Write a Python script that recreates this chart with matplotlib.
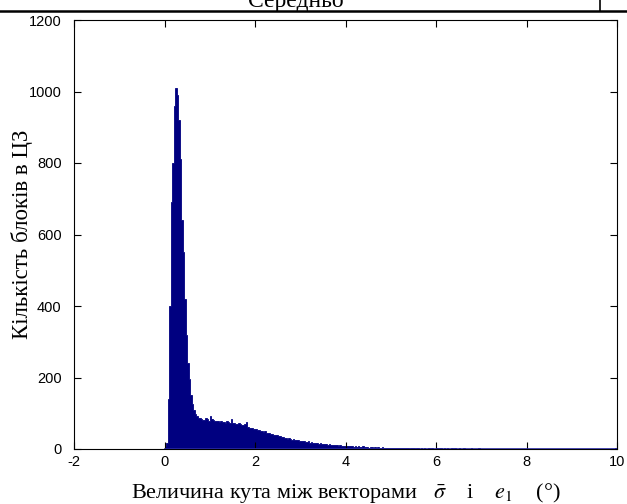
import numpy as np
import matplotlib
matplotlib.use("Agg")
import matplotlib.pyplot as plt
from matplotlib import font_manager

# ---------------- data ----------------
bin_start = 0.0
bin_stop = 10.0
n_bins = 300
counts = [
    # 0.0 - 1.0
    8, 17, 140, 400, 690, 800, 960, 1010, 990, 920,
    810, 640, 550, 420, 320, 240, 195, 150, 125, 108,
    98, 92, 88, 86, 84, 82, 80, 86, 84, 78,
    # 1.0 - 2.0
    92, 84, 80, 78, 79, 77, 76, 78, 75, 76,
    74, 77, 75, 73, 83, 72, 74, 71, 70, 72,
    69, 68, 67, 70, 75, 62, 60, 58, 59, 56,
    # 2.0 - 3.0
    55, 53, 54, 50, 51, 48, 49, 46, 45, 44,
    42, 43, 40, 38, 39, 36, 35, 33, 34, 31,
    30, 29, 30, 27, 26, 27, 25, 24, 25, 23,
    # 3.0 - 4.0
    22, 21, 23, 20, 19, 21, 18, 19, 17, 18,
    16, 17, 15, 16, 14, 15, 13, 14, 12, 13,
    12, 11, 12, 10, 11, 9, 10, 9, 8, 9,
    # 4.0 - 5.0
    8, 9, 7, 8, 7, 6, 8, 6, 7, 5,
    6, 7, 5, 6, 5, 4, 6, 5, 4, 5,
    4, 5, 3, 4, 5, 3, 4, 3, 4, 3,
    # 5.0 - 6.0
    3, 2, 4, 3, 2, 3, 2, 3, 2, 2,
    3, 2, 1, 2, 3, 2, 1, 2, 2, 1,
    2, 1, 2, 1, 1, 2, 1, 2, 1, 1,
    # 6.0 - 7.0
    2, 1, 2, 2, 1, 2, 1, 2, 1, 1,
    2, 1, 2, 1, 1, 2, 1, 1, 2, 1,
    1, 0, 1, 2, 1, 0, 1, 1, 2, 1,
    # 7.0 - 8.0
    1, 1, 0, 1, 0, 1, 1, 0, 0, 1,
    0, 0, 1, 0, 0, 1, 1, 0, 1, 0,
    0, 1, 0, 0, 0, 1, 0, 0, 0, 0,
    # 8.0 - 9.0
    0, 1, 0, 0, 0, 0, 0, 0, 0, 0,
    0, 1, 0, 0, 0, 0, 0, 0, 0, 0,
    0, 0, 0, 0, 0, 0, 0, 0, 0, 0,
    # 9.0 - 10.0
    0, 0, 0, 0, 0, 0, 0, 0, 0, 0,
    0, 0, 0, 0, 0, 0, 0, 0, 0, 0,
    0, 0, 0, 0, 0, 0, 0, 0, 0, 4,
]
x_ticks = [-2, 0, 2, 4, 6, 8, 10]
y_ticks = [0, 200, 400, 600, 800, 1000, 1200]
x_label = r"Величина кута між векторами   $\bar{\sigma}$    і    $e_1$    (°)"
y_label = "Кількість блоків в ЦЗ"
header_text = "Середньо"

# ---------------- style ----------------
plt.rcParams["mathtext.fontset"] = "stix"
names = {f.name for f in font_manager.fontManager.ttflist}
tick_family = ["Liberation Sans Narrow"] if "Liberation Sans Narrow" in names else ["Liberation Sans"]
serif = ["Liberation Serif", "DejaVu Serif"]
navy = "#000080"

fig = plt.figure(figsize=(6.27, 5.04), dpi=100)
ax = fig.add_axes([74 / 627, 55 / 504, 543 / 627, 429 / 504])

edges = np.linspace(bin_start, bin_stop, n_bins + 1)
ax.stairs(counts, edges, fill=True, facecolor=navy, edgecolor=navy, linewidth=0.6)
ax.plot([edges[0], edges[-1]], [0, 0], color="#2a2aa0", linewidth=1.2, zorder=3)

ax.set_xlim(-2, 10)
ax.set_ylim(0, 1200)
ax.set_xticks(x_ticks)
ax.set_yticks(y_ticks)
ax.set_xticklabels([str(t) for t in x_ticks], family=tick_family, fontsize=10.5)
ax.set_yticklabels([str(t) for t in y_ticks], family=tick_family, fontsize=10.5)
ax.tick_params(direction="in", top=True, right=True, length=5, width=0.8)
ax.tick_params(axis="y", pad=9)
ax.tick_params(axis="x", pad=4)
for s in ax.spines.values():
    s.set_linewidth(0.8)

ax.set_xlabel(x_label, family=serif, fontsize=16, labelpad=9)
ax.set_ylabel(y_label, family=serif, fontsize=16.5)
ax.yaxis.set_label_coords(-0.075, 0.5)

# header remnant (cropped table at the top)
fig.text(296 / 627, 1 - 7 / 504, header_text, family=serif, fontsize=17,
         ha="center", va="baseline")
fig.add_artist(plt.Line2D([0, 1], [1 - 11 / 504, 1 - 11 / 504], color="black",
                          linewidth=1.8, transform=fig.transFigure))
fig.add_artist(plt.Line2D([600 / 627, 600 / 627], [1 - 11 / 504, 1], color="black",
                          linewidth=1.2, transform=fig.transFigure))

fig.savefig("out.png", dpi=100)
